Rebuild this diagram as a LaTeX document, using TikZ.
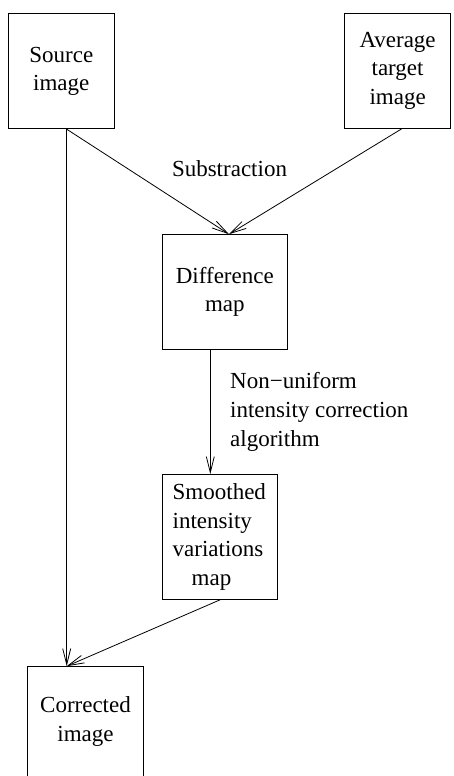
\documentclass[tikz,border=0pt]{standalone}
\usepackage{fontspec}
\setmainfont{Liberation Serif}
\usetikzlibrary{arrows.meta,calc}
\newcommand{\figfont}{\fontsize{23}{28.5}\selectfont}
\begin{document}
\begin{tikzpicture}[x=1pt,y=-1pt,
  box/.style={draw, line width=1pt, inner sep=0pt, align=center, font=\figfont},
  arr/.style={-{Straight Barb[length=16pt,width=8pt]}, line width=0.8pt},
  lbl/.style={anchor=base west, inner sep=0pt, font=\figfont}]
\useasboundingbox (0,0) rectangle (454,776);
\node[box, minimum width=106pt, minimum height=114.7pt] (src) at (61.3,71.35) {Source\\image};
\node[box, minimum width=106.2pt, minimum height=115pt] (avg) at (397.6,70.8) {Average\\target\\image};
\node[box, minimum width=125pt, minimum height=114.6pt] (dif) at (224.8,292) {Difference\\map};
\node[box, align=left, text width=94.8pt, inner xsep=10pt, minimum height=124.6pt] (smo) at (220.1,537) {Smoothed\\intensity\\variations\\\hspace*{19pt}map};
\node[box, minimum width=115.6pt, minimum height=109.6pt] (cor) at (85.5,721.5) {Corrected\\image};
\coordinate (srcout) at ([xshift=5.4pt]src.south);
\coordinate (diftip) at ([xshift=4.2pt]dif.north);
\coordinate (avgout) at ([xshift=4.1pt]avg.south);
\coordinate (corin) at (srcout |- cor.north);
\coordinate (difout) at ([xshift=-14.5pt]dif.south);
\coordinate (smoin) at (difout |- smo.north);
\draw[arr] (srcout) -- (diftip);
\draw[arr] (avgout) -- (diftip);
\draw[arr] (srcout) -- (corin);
\draw[arr] (difout) -- (smoin);
\draw[arr] (smo.south) -- (corin);
\node[anchor=base, inner sep=0pt, font=\figfont] (sub) at (229.5,176.7) {Substraction};
\node[lbl] (nu1) at (230,388) {Non−uniform};
\node[lbl] (nu2) at (230,417) {intensity correction};
\node[lbl] (nu3) at (230,446) {algorithm};
\end{tikzpicture}
\end{document}
